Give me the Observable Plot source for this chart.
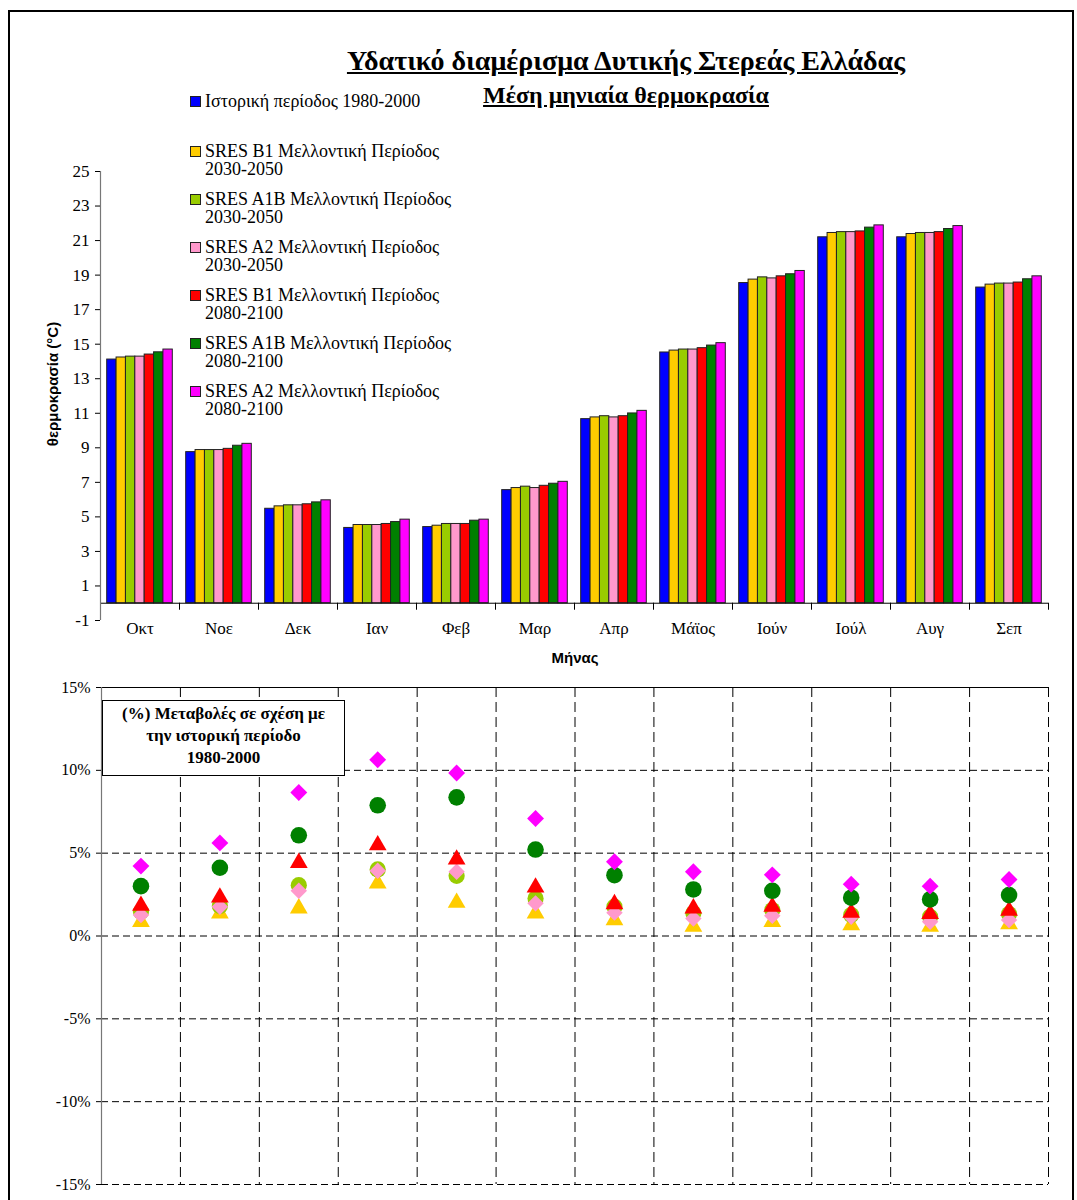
<!DOCTYPE html>
<html>
<head>
<meta charset="utf-8">
<script src="https://cdn.jsdelivr.net/npm/d3@7"></script>
<script src="https://cdn.jsdelivr.net/npm/@observablehq/plot@0.6"></script>
<style>
  html, body { margin: 0; padding: 0; background: #fff; }
  #page { position: relative; width: 1077px; height: 1200px; overflow: hidden; background: #fff; font-family: "Liberation Serif", serif; }
  #frame { position: absolute; left: 8px; top: 10px; width: 1066px; height: 1300px; border: 2px solid #000; box-sizing: border-box; }
  .abs { position: absolute; white-space: nowrap; }
  .title { font-weight: bold; text-decoration: underline; text-align: center; }
  .leg { position: absolute; font-size: 18px; line-height: 18px; color: #000; white-space: nowrap; }
  .sw { position: absolute; width: 9px; height: 9px; border: 1px solid #222; }
  .axlab { position: absolute; font-family: "Liberation Sans", Arial, sans-serif; font-weight: bold; font-size: 15px; }
  #pbox { position: absolute; left: 102px; top: 700px; width: 243px; height: 76px; border: 1px solid #000; background: #fff; box-sizing: border-box; text-align: center; font-weight: bold; font-size: 17px; line-height: 22px; padding-top: 2px; z-index: 5; white-space: nowrap; }
  #top, #bottom { position: absolute; left: 0; }
</style>
</head>
<body>
<div id="page">
  <div id="frame"></div>
  <div id="top"></div>
  <div id="bottom"></div>
  <div class="abs title" style="left:276px; width:700px; top:45px; font-size:28px;">Υδατικό διαμέρισμα Δυτικής Στερεάς Ελλάδας</div>
  <div class="abs title" style="left:426px; width:400px; top:82px; font-size:24px;">Μέση μηνιαία θερμοκρασία</div>
  <div id="legend"></div>
  <div class="axlab" style="left:52px; top:384px; transform: translate(-50%,-50%) rotate(-90deg); white-space:nowrap;">θερμοκρασία (°C)</div>
  <div class="axlab" style="left:575px; top:657px; transform: translate(-50%,-50%);">Μήνας</div>
  <div id="pbox">(%) Μεταβολές σε σχέση με<br>την ιστορική περίοδο<br>1980-2000</div>
</div>
<script>
// ---------- data ----------
const months = ["Οκτ","Νοε","Δεκ","Ιαν","Φεβ","Μαρ","Απρ","Μάϊος","Ιούν","Ιούλ","Αυγ","Σεπ"];

const legendLines = [
  ["Ιστορική περίοδος 1980-2000"],
  ["SRES B1 Μελλοντική Περίοδος", "2030-2050"],
  ["SRES A1B Μελλοντική Περίοδος", "2030-2050"],
  ["SRES A2 Μελλοντική Περίοδος", "2030-2050"],
  ["SRES B1 Μελλοντική Περίοδος", "2080-2100"],
  ["SRES A1B Μελλοντική Περίοδος", "2080-2100"],
  ["SRES A2 Μελλοντική Περίοδος", "2080-2100"]
];
const colors = ["#0000FF","#FFCC00","#99CC00","#FF99CC","#FF0000","#008000","#FF00FF"];

// mean monthly temperature (°C)
const hist     = [14.11, 8.75, 5.47, 4.36, 4.41, 6.55, 10.66, 14.52, 18.54, 21.19, 21.19, 18.28];
const b1_2030  = [14.23, 8.87, 5.61, 4.53, 4.49, 6.67, 10.76, 14.63, 18.74, 21.44, 21.38, 18.45];
const a1b_2030 = [14.28, 8.87, 5.67, 4.53, 4.59, 6.75, 10.83, 14.69, 18.87, 21.49, 21.44, 18.51];
const a2_2030  = [14.28, 8.87, 5.67, 4.53, 4.59, 6.67, 10.76, 14.69, 18.81, 21.49, 21.44, 18.51];
const b1_2080  = [14.40, 8.94, 5.73, 4.59, 4.59, 6.80, 10.83, 14.77, 18.93, 21.53, 21.49, 18.57];
const a1b_2080 = [14.53, 9.12, 5.84, 4.70, 4.78, 6.92, 10.99, 14.92, 19.05, 21.75, 21.67, 18.76];
const a2_2080  = [14.69, 9.23, 5.96, 4.84, 4.84, 7.03, 11.14, 15.06, 19.24, 21.88, 21.84, 18.93];

// % change relative to 1980-2000
const pB1_2030  = [0.86, 1.37, 1.67, 3.17, 2.01, 1.37, 0.96, 0.56, 0.86, 0.66, 0.56, 0.72];
const pA1B_2030 = [1.46, 1.81, 3.07, 4.02, 3.63, 2.27, 1.77, 1.37, 1.57, 1.27, 1.16, 1.33];
const pA2_2030  = [1.27, 1.77, 2.73, 3.94, 3.88, 1.97, 1.41, 1.06, 1.22, 1.16, 0.86, 0.96];
const pB1_2080  = [1.83, 2.33, 4.42, 5.48, 4.62, 2.93, 1.93, 1.67, 1.77, 1.41, 1.33, 1.53];
const pA1B_2080 = [3.01, 4.12, 6.08, 7.89, 8.37, 5.22, 3.67, 2.81, 2.73, 2.31, 2.21, 2.47];
const pA2_2080  = [4.22, 5.62, 8.66, 10.64, 9.84, 7.09, 4.48, 3.88, 3.69, 3.13, 3.01, 3.41];

const tempTicks = [-1, 1, 3, 5, 7, 9, 11, 13, 15, 17, 19, 21, 23, 25];
const pctTicks = [-15, -10, -5, 0, 5, 10, 15];

// ---------- top chart: grouped bars ----------
const tempSeries = [hist, b1_2030, a1b_2030, a2_2030, b1_2080, a1b_2080, a2_2080];
const W = 1077;
const topML = 100, topMR = 29;
const step = (W - topML - topMR) / months.length;   // band width per month
const barW = 9.37;
const gap = (step - barW * tempSeries.length) / 2;

const barMarks = tempSeries.map((vals, k) =>
  Plot.barY(months.map((m, i) => ({month: m, value: vals[i]})), {
    x: "month", y: "value",
    fill: colors[k], stroke: "#222", strokeWidth: 1,
    insetLeft: gap + k * barW,
    insetRight: step - gap - (k + 1) * barW
  })
);

const topChart = Plot.plot({
  width: W, height: 490,
  marginLeft: topML, marginRight: topMR, marginTop: 21, marginBottom: 20,
  x: {type: "band", domain: months, padding: 0, round: false},
  y: {domain: [-1, 25]},
  style: {fontFamily: "Liberation Serif, serif", fontSize: "16px", background: "transparent", overflow: "visible", color: "#000"},
  marks: [
    ...barMarks,
    Plot.ruleY([0], {stroke: "#000", strokeWidth: 1}),
    Plot.ruleX(months, {x: d => d, y1: 0, y2: 0, insetBottom: -7, dx: step / 2, stroke: "#000"}),
    Plot.ruleX(months.slice(0, 1), {x: d => d, dx: -step / 2, stroke: "#777", strokeWidth: 1.2}),
    Plot.axisY({ticks: tempTicks, tickSize: 5, tickPadding: 6, fontSize: 17, label: null, tickFormat: d => String(d)}),
    Plot.axisX({tickSize: 0, tickPadding: 1, fontSize: 17, label: null})
  ]
});
document.getElementById("top").style.top = "150px";
document.getElementById("top").appendChild(topChart);

// ---------- bottom chart: % changes ----------
const pctSeries = [
  {vals: pB1_2030,  color: colors[1], symbol: "triangle", r: 6.6},
  {vals: pA1B_2030, color: colors[2], symbol: "circle",   r: 8.1},
  {vals: pA2_2030,  color: colors[3], symbol: "diamond2", r: 7.4},
  {vals: pB1_2080,  color: colors[4], symbol: "triangle", r: 6.6},
  {vals: pA1B_2080, color: colors[5], symbol: "circle",   r: 8.3},
  {vals: pA2_2080,  color: colors[6], symbol: "diamond2", r: 7.6}
];
const botML = 101, botMR = 29;
const step2 = (W - botML - botMR) / months.length;

const dotMarks = pctSeries.map(s =>
  Plot.dot(months.map((m, i) => ({month: m, pct: s.vals[i]})), {
    x: "month", y: "pct", fill: s.color, stroke: "none", symbol: s.symbol, r: s.r
  })
);

const botChart = Plot.plot({
  width: W, height: 530,
  marginLeft: botML, marginRight: botMR, marginTop: 17, marginBottom: 16,
  x: {type: "band", domain: months, padding: 0, round: false, axis: null},
  y: {domain: [-15, 15]},
  style: {fontFamily: "Liberation Serif, serif", fontSize: "16px", background: "transparent", overflow: "visible", color: "#000"},
  marks: [
    Plot.ruleY(pctTicks.filter(t => t < 15), {stroke: "#000", strokeWidth: 1, strokeDasharray: "7,4"}),
    Plot.ruleX(months, {x: d => d, dx: step2 / 2, stroke: "#000", strokeWidth: 1, strokeDasharray: "10,5"}),
    Plot.ruleY(pctTicks.filter(t => t === 15), {stroke: "#000", strokeWidth: 1}),
    Plot.ruleX(months.slice(0, 1), {x: d => d, dx: -step2 / 2, stroke: "#777", strokeWidth: 1.2}),
    Plot.axisY({ticks: pctTicks, tickSize: 5, tickPadding: 6, fontSize: 16, label: null,
      tickFormat: d => d + "%"}),
    ...dotMarks
  ]
});
document.getElementById("bottom").style.top = "670px";
document.getElementById("bottom").appendChild(botChart);

// ---------- top legend ----------
const legTops = [101, 151, 199, 247, 295, 343, 391];
const legend = document.getElementById("legend");
legendLines.forEach((lines, k) => {
  const sw = document.createElement("div");
  sw.className = "sw";
  sw.style.left = "190px";
  sw.style.top = (legTops[k] - 5) + "px";
  sw.style.background = colors[k];
  legend.appendChild(sw);
  const t = document.createElement("div");
  t.className = "leg";
  t.style.left = "205px";
  t.style.top = (legTops[k] - 9) + "px";
  t.innerHTML = lines.join("<br>");
  legend.appendChild(t);
});
</script>
</body>
</html>
